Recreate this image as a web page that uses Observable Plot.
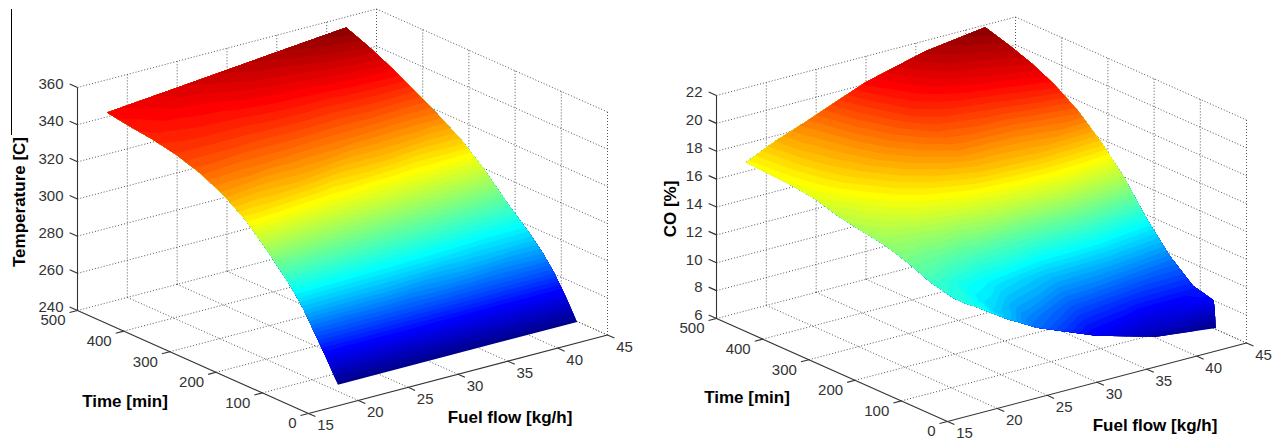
<!DOCTYPE html>
<html><head><meta charset="utf-8">
<script src="https://cdn.jsdelivr.net/npm/d3@7"></script>
<script src="https://cdn.jsdelivr.net/npm/@observablehq/plot@0.6"></script>
<style>
html,body{margin:0;padding:0;background:#fff;overflow:hidden}
#wrap{display:flex;width:1283px;height:439px}
svg{display:block}
</style></head><body><div id="wrap"></div>
<script>
const timeTicks = [0,100,200,300,400,500];
const fuelTicks = [15,20,25,30,35,40,45];
const tempTicks = [240,260,280,300,320,340,360];
const coTicks = [6,8,10,12,14,16,18,20,22];
const surfaceFuel = [18,26,34,42];
const tempTime = [0,25,50,75,100,150,200,250,300,350,400,450,500];
const tempAtFuel18 = [251,262.5,273,283.5,292,305.5,317.5,326,332,336,338.5,340,342];
const tempAtFuel26 = [251,262.5,273,282.5,290,303,314.5,324.5,331,336,340,343,346];
const tempAtFuel34 = [251,262,272.5,281.5,288,301,312.5,322.5,330,336,341.5,346,350];
const tempAtFuel42 = [251,262,272,280,286.5,298,310.5,321,329,336,343,349,354];
const coFuel = [18,21,24,30,36,42];
const coTime = [0,5,25,50,100,150,200,250,300,350,400,450,500];
const coAtFuel18 = [13.6,13.6,13.5,13.5,13.9,14.6,15.1,15.4,15.7,16.2,16.4,16.5,16.6];
const coAtFuel21 = [12.2,12.25,12.4,12.7,13.3,14.4,15.3,16.0,16.5,17.0,17.3,17.5,17.6];
const coAtFuel24 = [11.0,11.05,11.4,11.9,12.9,14.2,15.5,16.5,17.2,17.7,18.0,18.2,18.4];
const coAtFuel30 = [9.3,9.4,9.9,10.6,12.1,14.0,15.9,17.3,18.3,19.0,19.5,19.8,20.1];
const coAtFuel36 = [8.1,8.5,9.1,10.0,11.9,13.9,16.0,17.5,18.4,19.4,20.2,20.8,21.2];
const coAtFuel42 = [7.6,9.5,9.7,9.9,11.3,13.2,15.5,17.3,18.8,19.9,20.7,21.3,21.8];
const jetColors = ["#00008f","#0000ff","#00ffff","#ffff00","#ff0000","#800000"];
const jetStops = [0,0.125,0.375,0.625,0.875,1];
const font = "'Liberation Sans', Arial, sans-serif";

function panel({width,x0,y0,zTicks,zTitle,fuels,times,columns,stray,titleOffsets,clipId}){
  const zMin = zTicks[0], zMax = zTicks[zTicks.length-1];
  const P = (f,t,z) => ({
    x: x0 + (f-15)/30*299 - t/500*231,
    y: y0 - (f-15)/30*78.5 - t/500*103 - (z-zMin)/(zMax-zMin)*223
  });
  const seg = (a,b) => ({x1:a.x,y1:a.y,x2:b.x,y2:b.y});
  const grid = [];
  for (const f of fuelTicks.slice(1)) {
    grid.push(seg(P(f,0,zMin),P(f,500,zMin)), seg(P(f,500,zMin),P(f,500,zMax)));
  }
  for (const t of timeTicks) {
    if (t>0) grid.push(seg(P(15,t,zMin),P(45,t,zMin)));
    grid.push(seg(P(45,t,zMin),P(45,t,zMax)));
  }
  for (const z of zTicks) {
    if (z>zMin) grid.push(seg(P(15,500,z),P(45,500,z)));
    grid.push(seg(P(45,500,z),P(45,0,z)));
  }
  const axes = [seg(P(15,500,zMin),P(15,500,zMax)), seg(P(15,0,zMin),P(15,500,zMin)), seg(P(15,0,zMin),P(45,0,zMin))];
  for (const z of zTicks) axes.push(seg(P(15,500,z),P(15,517,z)));
  for (const t of timeTicks) axes.push(seg(P(15,t,zMin),P(14.2,t,zMin)));
  for (const f of fuelTicks) axes.push(seg(P(f,0,zMin),P(f,-15,zMin)));
  const pts = [];
  fuels.forEach((f,i)=>times.forEach((t,j)=>{
    const p = P(f,t,columns[i][j]);
    pts.push({x:p.x,y:p.y,v:columns[i][j]});
  }));
  const at = (i,j)=>P(fuels[i],times[j],columns[i][j]);
  const nf=fuels.length, nt=times.length;
  const outline = [];
  for (let j=0;j<nt;j++) outline.push(at(0,j));
  for (let i=1;i<nf;i++) outline.push(at(i,nt-1));
  for (let j=nt-2;j>=0;j--) outline.push(at(nf-1,j));
  for (let i=nf-2;i>0;i--) outline.push(at(i,0));
  const vals = columns.flat();
  const vMin = d3.min(vals), vMax = d3.max(vals), step=(vMax-vMin)/64;
  const thresholds = d3.range(0,64).map(k=>vMin-step*0.01+k*step);
  const textOpts = {fontFamily:font,fontSize:15,fill:"#333"};
  const titleOpts = {fontFamily:font,fontSize:17,fontWeight:"bold",fill:"#000",text:"text"};
  const tz = P(15,500,(zMin+zMax)/2), tt=P(15,250,zMin), tf=P(30,0,zMin);
  const marks = [
    Plot.link(grid,{x1:"x1",y1:"y1",x2:"x2",y2:"y2",stroke:"#555",strokeWidth:1,strokeDasharray:"1 2"}),
    Plot.contour(pts,{x:"x",y:"y",value:"v",fill:"value",stroke:"none",thresholds,interpolate:"barycentric",pixelSize:1,smooth:true,
      render(index,scales,values,dims,ctx,next){
        const g = next(index,scales,values,dims,ctx);
        const cp = document.createElementNS("http://www.w3.org/2000/svg","clipPath");
        cp.setAttribute("id",clipId);
        const poly = document.createElementNS("http://www.w3.org/2000/svg","polygon");
        poly.setAttribute("points",outline.map(p=>`${scales.x(p.x)},${scales.y(p.y)}`).join(" "));
        cp.appendChild(poly); g.appendChild(cp);
        const wrap = document.createElementNS("http://www.w3.org/2000/svg","g");
        wrap.setAttribute("clip-path",`url(#${clipId})`);
        wrap.appendChild(g);
        return wrap;
      }}),
    Plot.link(axes,{x1:"x1",y1:"y1",x2:"x2",y2:"y2",stroke:"#333",strokeWidth:1.1}),
    Plot.text(zTicks,{x:z=>P(15,500,z).x,y:z=>P(15,500,z).y,text:d=>String(d),textAnchor:"end",dx:-14,dy:-3,...textOpts}),
    Plot.text(timeTicks,{x:t=>P(15,t,zMin).x,y:t=>P(15,t,zMin).y,text:d=>String(d),textAnchor:"end",dx:-12,dy:10,...textOpts}),
    Plot.text(fuelTicks,{x:f=>P(f,0,zMin).x,y:f=>P(f,0,zMin).y,text:d=>String(d),dx:17,dy:12,...textOpts}),
    Plot.text([{text:zTitle,x:tz.x,y:tz.y}],{x:"x",y:"y",rotate:-90,dx:titleOffsets.z[0],dy:titleOffsets.z[1],...titleOpts}),
    Plot.text([{text:"Time [min]",x:tt.x,y:tt.y}],{x:"x",y:"y",dx:titleOffsets.t[0],dy:titleOffsets.t[1],...titleOpts}),
    Plot.text([{text:"Fuel flow [kg/h]",x:tf.x,y:tf.y}],{x:"x",y:"y",dx:titleOffsets.f[0],dy:titleOffsets.f[1],...titleOpts})
  ];
  if (stray) marks.push(Plot.ruleX([stray.x],{y1:stray.y1,y2:stray.y2,stroke:"#000",strokeWidth:1}));
  return Plot.plot({
    width,height:439,margin:0,
    style:{background:"#fff"},
    x:{domain:[0,width],range:[0,width],axis:null},
    y:{domain:[0,439],range:[0,439],axis:null},
    color:{type:"linear",domain:jetStops.map(s=>vMin+s*(vMax-vMin)),range:jetColors,clamp:true},
    marks
  });
}
const wrap = document.getElementById("wrap");
wrap.appendChild(panel({width:640,x0:308,y0:413,zTicks:tempTicks,zTitle:"Temperature [C]",fuels:surfaceFuel,times:tempTime,
  columns:[tempAtFuel18,tempAtFuel26,tempAtFuel34,tempAtFuel42],stray:{x:11,y1:9,y2:135},
  titleOffsets:{z:[-58,3],t:[-68,40],f:[52,43]},clipId:"clipTemp"}));
wrap.appendChild(panel({width:643,x0:307,y0:421,zTicks:coTicks,zTitle:"CO [%]",fuels:coFuel,times:coTime,
  columns:[coAtFuel18,coAtFuel21,coAtFuel24,coAtFuel30,coAtFuel36,coAtFuel42],stray:null,
  titleOffsets:{z:[-46,2],t:[-85,28],f:[58,43]},clipId:"clipCO"}));
</script></body></html>
